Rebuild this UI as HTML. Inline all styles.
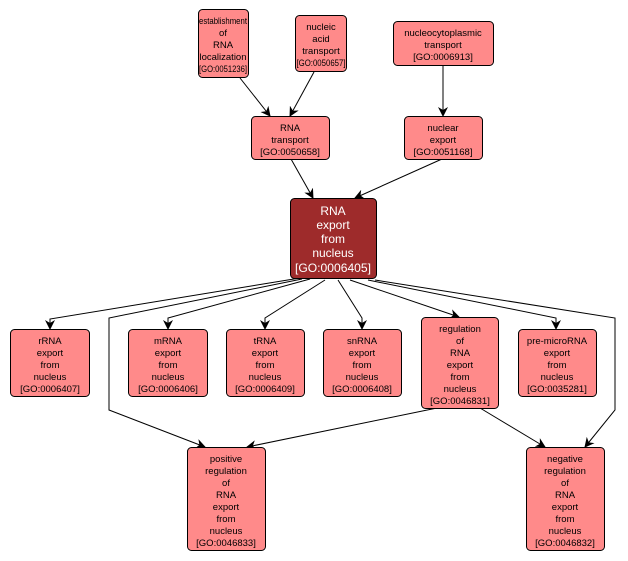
<!DOCTYPE html>
<html><head><style>body{margin:0;background:#fff}svg{display:block}text{font-family:"Liberation Sans",sans-serif;font-size:9.5px;text-anchor:middle;fill:#000}text.c{font-size:12px;fill:#fff}</style></head><body>
<svg width="628" height="561" viewBox="0 0 628 561">
<defs><marker id="a" markerWidth="10" markerHeight="10" refX="9" refY="5" orient="auto" markerUnits="userSpaceOnUse"><path d="M0,0 L10,5 L0,10 L3,5 Z" fill="#000"/></marker></defs>
<g stroke="#000" stroke-width="1" fill="none" marker-end="url(#a)">
<path d="M240,78 L270,116"/><path d="M314,72 L290,116"/><path d="M443,65 L443,116"/>
<path d="M291,159 L313,198"/><path d="M442,159 L355,198"/>
<path d="M300,278 L50,319 L50,329"/>
<path d="M302,279 L109,318 L109,410 L205,447"/>
<path d="M310,279 L168,318 L168,329"/>
<path d="M325,280 L265,318 L265,329"/>
<path d="M338,280 L362,318 L362,329"/>
<path d="M350,280 L459,317"/>
<path d="M368,280 L556,318 L556,329"/>
<path d="M375,280 L615,318 L615,410 L585,447"/>
<path d="M437,408 L247,447"/><path d="M480,408 L545,447"/>
</g>
<g stroke="#000" stroke-width="1" fill="#ff8a8a">
<rect x="198.5" y="9.5" width="50" height="68" rx="4"/>
<rect x="295.5" y="15.5" width="51" height="56" rx="4"/>
<rect x="393.5" y="21.5" width="100" height="44" rx="4"/>
<rect x="251.5" y="116.5" width="78" height="43" rx="4"/>
<rect x="404.5" y="116.5" width="78" height="43" rx="4"/>
<rect x="290.5" y="198.5" width="86" height="80" rx="4" fill="#9e2b2b"/>
<rect x="10.5" y="329.5" width="79" height="67" rx="4"/>
<rect x="128.5" y="329.5" width="79" height="67" rx="4"/>
<rect x="226.5" y="329.5" width="78" height="67" rx="4"/>
<rect x="323.5" y="329.5" width="78" height="67" rx="4"/>
<rect x="421.5" y="317.5" width="77" height="91" rx="4"/>
<rect x="518.5" y="329.5" width="78" height="67" rx="4"/>
<rect x="187.5" y="447.5" width="78" height="103" rx="4"/>
<rect x="526.5" y="447.5" width="78" height="103" rx="4"/>
</g>
<text x="223" y="24" textLength="48" lengthAdjust="spacingAndGlyphs">establishment</text><text x="223" y="36">of</text><text x="223" y="48">RNA</text><text x="223" y="60">localization</text><text x="223" y="72" textLength="48" lengthAdjust="spacingAndGlyphs">[GO:0051236]</text>
<text x="321" y="30">nucleic</text><text x="321" y="42">acid</text><text x="321" y="54">transport</text><text x="321" y="66" textLength="49" lengthAdjust="spacingAndGlyphs">[GO:0050657]</text>
<text x="443" y="36">nucleocytoplasmic</text><text x="443" y="48">transport</text><text x="443" y="60">[GO:0006913]</text>
<text x="290" y="131">RNA</text><text x="290" y="143">transport</text><text x="290" y="155">[GO:0050658]</text>
<text x="443" y="131">nuclear</text><text x="443" y="143">export</text><text x="443" y="155">[GO:0051168]</text>
<text class="c" x="333" y="215">RNA</text><text class="c" x="333" y="229">export</text><text class="c" x="333" y="243">from</text><text class="c" x="333" y="257">nucleus</text><text class="c" x="333" y="272" textLength="76" lengthAdjust="spacingAndGlyphs">[GO:0006405]</text>
<g><text x="50" y="344">rRNA</text><text x="50" y="356">export</text><text x="50" y="368">from</text><text x="50" y="380">nucleus</text><text x="50" y="392">[GO:0006407]</text></g>
<g><text x="168" y="344">mRNA</text><text x="168" y="356">export</text><text x="168" y="368">from</text><text x="168" y="380">nucleus</text><text x="168" y="392">[GO:0006406]</text></g>
<g><text x="265" y="344">tRNA</text><text x="265" y="356">export</text><text x="265" y="368">from</text><text x="265" y="380">nucleus</text><text x="265" y="392">[GO:0006409]</text></g>
<g><text x="362" y="344">snRNA</text><text x="362" y="356">export</text><text x="362" y="368">from</text><text x="362" y="380">nucleus</text><text x="362" y="392">[GO:0006408]</text></g>
<g><text x="460" y="332">regulation</text><text x="460" y="344">of</text><text x="460" y="356">RNA</text><text x="460" y="368">export</text><text x="460" y="380">from</text><text x="460" y="392">nucleus</text><text x="460" y="404">[GO:0046831]</text></g>
<g><text x="557" y="344">pre-microRNA</text><text x="557" y="356">export</text><text x="557" y="368">from</text><text x="557" y="380">nucleus</text><text x="557" y="392">[GO:0035281]</text></g>
<g><text x="226" y="462">positive</text><text x="226" y="474">regulation</text><text x="226" y="486">of</text><text x="226" y="498">RNA</text><text x="226" y="510">export</text><text x="226" y="522">from</text><text x="226" y="534">nucleus</text><text x="226" y="546">[GO:0046833]</text></g>
<g><text x="565" y="462">negative</text><text x="565" y="474">regulation</text><text x="565" y="486">of</text><text x="565" y="498">RNA</text><text x="565" y="510">export</text><text x="565" y="522">from</text><text x="565" y="534">nucleus</text><text x="565" y="546">[GO:0046832]</text></g>
</svg>
</body></html>
